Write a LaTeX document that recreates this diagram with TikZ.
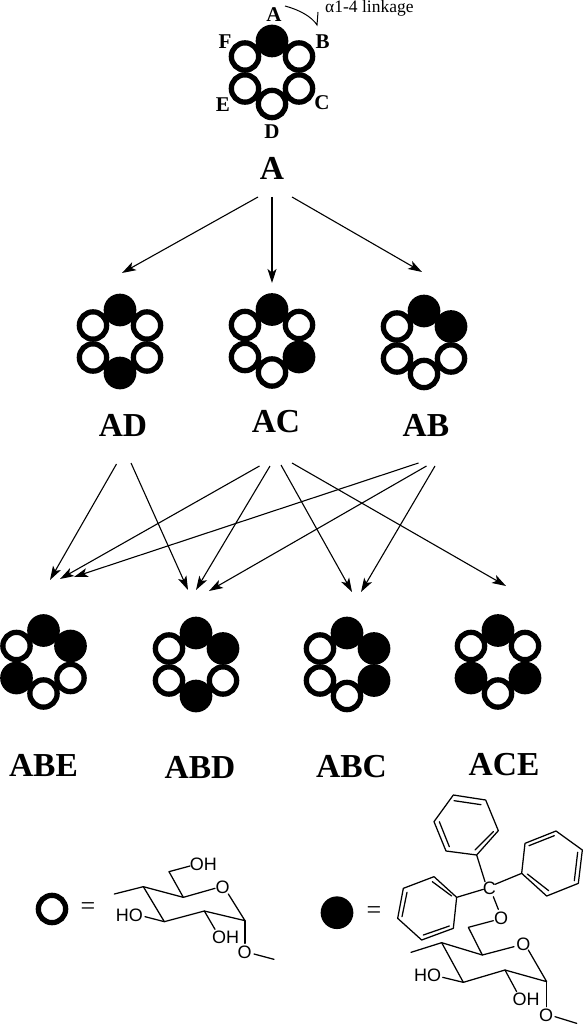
\documentclass[tikz,border=0pt]{standalone}
\usepackage{fontspec}
\setmainfont{Liberation Serif}
\newfontfamily\molfont{Liberation Sans}
\usetikzlibrary{arrows.meta}
\tikzset{
  openres/.style={circle,draw=black,line width=5.3pt,minimum size=27.3pt,inner sep=0pt,fill=white},
  filledres/.style={circle,fill=black,minimum size=32.7pt,inner sep=0pt},
  biglabel/.style={font=\bfseries\fontsize{33.5}{33.5}\selectfont,inner sep=0pt},
  poslabel/.style={font=\bfseries\fontsize{21}{21}\selectfont,inner sep=0pt},
  arr/.style={-{Stealth[length=14pt,width=9pt,inset=3.5pt]},line width=1.1pt,black},
  bond/.style={line width=1.25pt,black,line cap=round,line join=round},
  atom/.style={font=\molfont\fontsize{18}{18}\selectfont,inner sep=0pt,text=black},
  eqsign/.style={font=\fontsize{26}{26}\selectfont,inner sep=0pt}
}
\newcommand{\ringx}[9]{%
  \coordinate (#1) at (#2,#3);
  \node[#5] (#1b) at ([shift={(27,-16)}]#1) {};
  \node[#6] (#1c) at ([shift={(27,16)}]#1) {};
  \node[#7] (#1d) at ([shift={(0,31.5)}]#1) {};
  \node[#8] (#1e) at ([shift={(-27,16)}]#1) {};
  \node[#9] (#1f) at ([shift={(-27,-16)}]#1) {};
  \node[#4] (#1a) at ([shift={(0,-31.5)}]#1) {};
}
\newcommand{\conn}[6]{%
  \draw[arr] ([shift={(#2,#3)}]#1.center) -- ([shift={(#5,#6)}]#4);
}
\begin{document}
\begin{tikzpicture}[x=1pt,y=-1pt]
\useasboundingbox (0,0) rectangle (583,1024);
% rings
\ringx{rA}{272}{72.5}{filledres}{openres}{openres}{openres}{openres}{openres}
\ringx{rAD}{120}{341.5}{filledres}{openres}{openres}{filledres}{openres}{openres}
\ringx{rAC}{272}{341}{filledres}{openres}{filledres}{openres}{openres}{openres}
\ringx{rAB}{424}{342.5}{filledres}{filledres}{openres}{openres}{openres}{openres}
\ringx{rABE}{43.5}{662}{filledres}{filledres}{openres}{openres}{filledres}{openres}
\ringx{rABD}{196}{664.5}{filledres}{filledres}{openres}{filledres}{openres}{openres}
\ringx{rABC}{347}{664.5}{filledres}{filledres}{filledres}{openres}{openres}{openres}
\ringx{rACE}{498}{662}{filledres}{openres}{filledres}{openres}{filledres}{openres}
% position letters
\node[poslabel] (pA) at (274,15) {A};
\node[poslabel] (pB) at (322.7,42) {B};
\node[poslabel] (pC) at (322,103) {C};
\node[poslabel] (pD) at (272,132) {D};
\node[poslabel] (pE) at (223,105) {E};
\node[poslabel] (pF) at (225,42) {F};
\node[font=\fontsize{17.5}{17.5}\selectfont,inner sep=0pt,anchor=base west] (link) at (325,13) {α1-4 linkage};
\coordinate (curveS) at (285,6);
\coordinate (curveM) at (317,25);
\coordinate (curveE) at (318,12);
\draw[line width=1pt] (curveS) .. controls (300,10) and (312,17) .. (curveM) -- (curveE);
% labels
\node[biglabel] (lA) at (272,168) {A};
\node[biglabel] (lAD) at (123,425) {AD};
\node[biglabel] (lAC) at (276,422) {AC};
\node[biglabel] (lAB) at (426,425) {AB};
\node[biglabel] (lABE) at (43.5,765) {ABE};
\node[biglabel] (lABD) at (200,767) {ABD};
\node[biglabel] (lABC) at (351.5,767) {ABC};
\node[biglabel] (lACE) at (504,765) {ACE};
% connectors
\conn{lA}{-14}{29}{rAD}{2}{-68.5}
\conn{lA}{0}{29}{rAC}{0}{-58}
\conn{lA}{20}{29}{rAB}{-2}{-70.5}
\conn{lAD}{-6.5}{39}{rABE}{6.5}{-82}
\conn{lAD}{8}{38}{rABD}{-8}{-74.5}
\conn{lAC}{-16.5}{44}{rABE}{16.5}{-83}
\conn{lAC}{-6}{44}{rABD}{0}{-74.5}
\conn{lAC}{5}{43}{rABC}{5}{-72.5}
\conn{lAC}{16}{41}{rACE}{8}{-76}
\conn{lAB}{-7.5}{38}{rABE}{30.5}{-85}
\conn{lAB}{0.5}{41}{rABD}{13}{-73.5}
\conn{lAB}{9}{41}{rABC}{14}{-72.5}
% legend, open residue
\node[openres] (legO) at (52,909) {};
\node[eqsign] (eqO) at (88,908.5) {=};
\begin{scope}[shift={(20,830)},scale=1/3]
\draw[bond] (283,192) -- (370,170) -- (490,202) -- (585,175);
\draw[bond] (625,192) -- (675,272) -- (553,243) -- (433,275) -- (370,170);
\draw[bond] (490,202) -- (447,125) -- (510,108);
\draw[bond] (553,243) -- (585,298);
\draw[bond] (433,275) -- (375,260);
\draw[bond] (675,272) -- (675,340);
\draw[bond] (702,372) -- (762,388);
\node[atom] (o1a) at (608,172) {O};
\node[atom] (o1b) at (550,103) {OH};
\node[atom] (o1c) at (328,257) {HO};
\node[atom] (o1d) at (617,322) {OH};
\node[atom] (o1e) at (674,367) {O};
\end{scope}
% legend, filled residue
\node[filledres] (legK) at (337,912.7) {};
\node[eqsign] (eqK) at (374,912.5) {=};
\begin{scope}[shift={(310,790)},scale=1/3]
\draw[bond] (303,487) -- (395,458) -- (517,495) -- (612,470);
\draw[bond] (655,480) -- (710,575) -- (585,540) -- (460,577) -- (395,458);
\draw[bond] (517,495) -- (475,412) -- (550,392);
\draw[bond] (565,358) -- (550,320);
\draw[bond] (585,540) -- (620,605);
\draw[bond] (460,577) -- (398,562);
\draw[bond] (710,575) -- (710,650);
\draw[bond] (735,680) -- (800,700);
\draw[bond] (525,275) -- (500,195);
\draw[bond] (555,283) -- (635,250);
\draw[bond] (520,298) -- (440,322);
\draw[bond] (430,15) -- (527,30) -- (565,122) -- (500,195) -- (408,183) -- (372,95) -- cycle;
\draw[bond] (432,32) -- (513,44);
\draw[bond] (550,125) -- (495,180);
\draw[bond] (388,95) -- (418,170);
\draw[bond] (635,250) -- (645,160) -- (738,123) -- (817,180) -- (805,280) -- (710,318) -- cycle;
\draw[bond] (657,167) -- (733,137);
\draw[bond] (803,187) -- (793,272);
\draw[bond] (716,302) -- (652,252);
\draw[bond] (440,322) -- (372,260) -- (280,295) -- (263,385) -- (335,450) -- (430,415) -- cycle;
\draw[bond] (367,275) -- (425,318);
\draw[bond] (291,307) -- (276,380);
\draw[bond] (340,435) -- (418,408);
\node[atom] (o2a) at (640,462) {O};
\node[atom] (o2b) at (573,385) {O};
\node[atom] (o2c) at (538,295) {C};
\node[atom] (o2d) at (353,555) {HO};
\node[atom] (o2e) at (648,628) {OH};
\node[atom] (o2f) at (708,677) {O};
\end{scope}
\end{tikzpicture}
\end{document}
